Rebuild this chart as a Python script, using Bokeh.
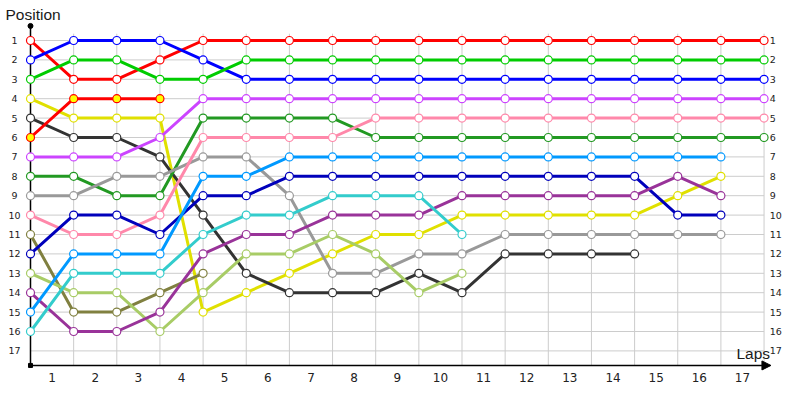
from bokeh.plotting import figure
from bokeh.models import Range1d, ColumnDataSource, Arrow, NormalHead
from bokeh.core.properties import value
from bokeh.embed import file_html
from bokeh.resources import INLINE

# ---- data (position per lap, lap 0 = start) ----
pos_red = [1, 3, 3, 2, 1, 1, 1, 1, 1, 1, 1, 1, 1, 1, 1, 1, 1, 1]
pos_blue = [2, 1, 1, 1, 2, 3, 3, 3, 3, 3, 3, 3, 3, 3, 3, 3, 3, 3]
pos_green = [3, 2, 2, 3, 3, 2, 2, 2, 2, 2, 2, 2, 2, 2, 2, 2, 2, 2]
pos_yellow = [4, 5, 5, 5, 15, 14, 13, 12, 11, 11, 10, 10, 10, 10, 10, 9, 8]
pos_black = [5, 6, 6, 7, 10, 13, 14, 14, 14, 13, 14, 12, 12, 12, 12]
pos_red2 = [6, 4, 4, 4]
pos_violet = [7, 7, 7, 6, 4, 4, 4, 4, 4, 4, 4, 4, 4, 4, 4, 4, 4, 4]
pos_dgreen = [8, 8, 9, 9, 5, 5, 5, 5, 6, 6, 6, 6, 6, 6, 6, 6, 6, 6]
pos_grey = [9, 9, 8, 8, 7, 7, 9, 13, 13, 12, 12, 11, 11, 11, 11, 11, 11]
pos_pink = [10, 11, 11, 10, 6, 6, 6, 6, 5, 5, 5, 5, 5, 5, 5, 5, 5, 5]
pos_olive = [11, 15, 15, 14, 13]
pos_navy = [12, 10, 10, 11, 9, 9, 8, 8, 8, 8, 8, 8, 8, 8, 8, 10, 10]
pos_lgreen = [13, 14, 14, 16, 14, 12, 12, 11, 12, 14, 13]
pos_plum = [14, 16, 16, 15, 12, 11, 11, 10, 10, 10, 9, 9, 9, 9, 9, 8, 9]
pos_lblue = [15, 12, 12, 12, 8, 8, 7, 7, 7, 7, 7, 7, 7, 7, 7, 7, 7]
pos_cyan = [16, 13, 13, 13, 11, 10, 10, 9, 9, 9, 11]

lap_labels = [str(i) for i in range(1, 18)]
pos_labels = [str(i) for i in range(1, 18)]

series = [
    (pos_red, "#FF0000", "white"),
    (pos_blue, "#0000FF", "white"),
    (pos_green, "#00CC00", "white"),
    (pos_yellow, "#E0E000", "white"),
    (pos_black, "#333333", "white"),
    (pos_red2, "#FF0000", "#FFFF00"),
    (pos_violet, "#CC44FF", "white"),
    (pos_dgreen, "#229922", "white"),
    (pos_grey, "#999999", "white"),
    (pos_pink, "#FF88AA", "white"),
    (pos_olive, "#808040", "white"),
    (pos_navy, "#0000BB", "white"),
    (pos_lgreen, "#A8CC66", "white"),
    (pos_plum, "#993399", "white"),
    (pos_lblue, "#0099FF", "white"),
    (pos_cyan, "#33CCCC", "white"),
]

n_laps = 17
n_pos = 17

p = figure(width=784, height=384, output_backend="svg", toolbar_location=None,
           x_axis_type=None, y_axis_type=None, min_border=0,
           x_range=Range1d(-0.6952, 17.474), y_range=Range1d(18.732, -1.0619))
p.outline_line_color = None
p.background_fill_color = "white"

# grid lines
vx = list(range(1, n_laps + 1))
p.segment(x0=vx, x1=vx, y0=[0.65] * len(vx), y1=[17.75] * len(vx),
          line_color="#CCCCCC", line_width=1)
hy = list(range(1, n_pos + 1))
p.segment(x0=[0] * len(hy), x1=[n_laps] * len(hy), y0=hy, y1=hy,
          line_color="#CCCCCC", line_width=1)

# axes
p.segment(x0=[0], x1=[0], y0=[0.25], y1=[17.75], line_color="black", line_width=1.5)
p.add_layout(Arrow(end=NormalHead(size=9, fill_color="black", line_color="black"),
                   x_start=0, y_start=17.75, x_end=17.16, y_end=17.75,
                   line_color="black", line_width=1.5))
p.scatter(x=[0], y=[0.25], size=5, color="black")
p.scatter(x=[0], y=[17.75], size=4, marker="square", color="black")

# series
for vals, col, fill in series:
    laps = list(range(len(vals)))
    src = ColumnDataSource(dict(x=laps, y=vals))
    p.line("x", "y", source=src, line_color=col, line_width=3)
    p.scatter("x", "y", source=src, size=8, fill_color=fill, line_color=col,
              line_width=1.2)

# tick labels
p.text(x=[-0.371] * n_pos, y=hy, text=pos_labels, text_align="center",
       text_baseline="middle", text_font=value("DejaVu Sans"),
       text_font_size="9.5px", text_color="#222222")
p.text(x=[17.13] * n_pos, y=hy, text=pos_labels, text_align="left",
       text_baseline="middle", text_font=value("DejaVu Sans"),
       text_font_size="9.5px", text_color="#222222")
p.text(x=[i - 0.5 for i in range(1, n_laps + 1)], y=[18.35] * n_laps, text=lap_labels,
       text_align="center", text_baseline="middle", text_font=value("DejaVu Sans"),
       text_font_size="12px", text_color="#222222")

# axis titles
p.text(x=[-0.579], y=[-0.80], text=["Position"], text_align="left",
       text_baseline="top", text_font=value("Liberation Sans"),
       text_font_size="15.5px", text_color="#1a1a1a")
p.text(x=[16.36], y=[16.70], text=["Laps"], text_align="left",
       text_baseline="top", text_font=value("Liberation Sans"),
       text_font_size="15.5px", text_color="#1a1a1a")

open("out.html", "w").write(file_html(p, INLINE))
